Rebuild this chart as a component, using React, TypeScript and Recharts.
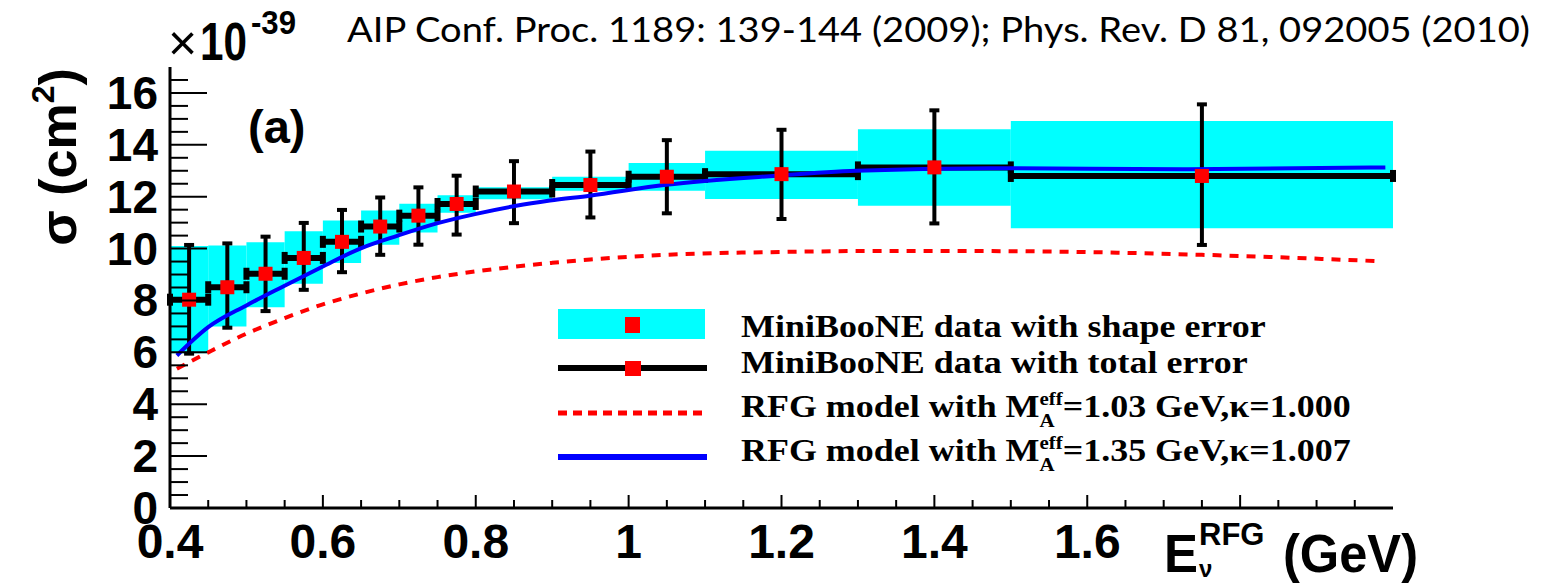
import React from 'react';
import {
  ComposedChart,
  XAxis,
  YAxis,
  Scatter,
  ErrorBar,
  Line,
  ReferenceArea,
  Legend,
  Customized,
} from 'recharts';

// ---- data (cross section in units of 1e-39 cm^2) ----
const BIN_LOW = [0.4, 0.45, 0.5, 0.55, 0.6, 0.65, 0.7, 0.75, 0.8, 0.9, 1.0, 1.1, 1.3, 1.5];
const BIN_HIGH = [0.45, 0.5, 0.55, 0.6, 0.65, 0.7, 0.75, 0.8, 0.9, 1.0, 1.1, 1.3, 1.5, 2.0];
const BIN_CENTER = [0.425, 0.475, 0.525, 0.575, 0.625, 0.675, 0.725, 0.775, 0.85, 0.95, 1.05, 1.2, 1.4, 1.75];
const SIGMA = [8.03, 8.51, 9.03, 9.64, 10.26, 10.85, 11.27, 11.72, 12.2, 12.45, 12.77, 12.87, 13.13, 12.8];
const TOTAL_LOW = [5.95, 6.95, 7.59, 8.41, 9.09, 9.76, 10.15, 10.54, 10.98, 11.2, 11.36, 11.14, 10.97, 10.14];
const TOTAL_HIGH = [10.14, 10.2, 10.46, 10.99, 11.49, 11.97, 12.36, 12.81, 13.37, 13.74, 14.18, 14.58, 15.33, 15.56];
const SHAPE_LOW = [5.97, 7.0, 7.74, 8.64, 9.44, 10.15, 10.62, 11.38, 11.9, 12.23, 12.23, 11.91, 11.65, 10.78];
const SHAPE_HIGH = [10.1, 10.12, 10.24, 10.67, 11.08, 11.47, 11.73, 12.06, 12.36, 12.77, 13.3, 13.77, 14.6, 14.92];

// RFG model, M_A^eff = 1.35 GeV, kappa = 1.007 (blue)
const BLUE_X = [0.409, 0.45, 0.5, 0.548, 0.598, 0.648, 0.698, 0.749, 0.799, 0.853, 0.897, 0.949, 1.049, 1.193, 1.298, 1.472, 1.733, 1.99];
const BLUE_Y = [5.88, 6.97, 7.81, 8.54, 9.28, 9.99, 10.5, 10.97, 11.33, 11.65, 11.85, 12.04, 12.46, 12.81, 13.0, 13.1, 13.06, 13.13];

// RFG model, M_A^eff = 1.03 GeV, kappa = 1.000 (red dashed)
const RED_X = [0.409, 0.45, 0.5, 0.55, 0.6, 0.65, 0.7, 0.75, 0.8, 0.85, 0.9, 0.95, 1.05, 1.2, 1.35, 1.5, 1.75, 1.986];
const RED_Y = [5.37, 6.0, 6.72, 7.32, 7.85, 8.27, 8.62, 8.9, 9.12, 9.3, 9.45, 9.58, 9.76, 9.87, 9.91, 9.9, 9.76, 9.51];

const X_TICKS = [0.4, 0.45, 0.5, 0.55, 0.6, 0.65, 0.7, 0.75, 0.8, 0.85, 0.9, 0.95, 1.0, 1.05, 1.1, 1.15, 1.2, 1.25, 1.3, 1.35, 1.4, 1.45, 1.5, 1.55, 1.6, 1.65, 1.7, 1.75, 1.8, 1.85, 1.9, 1.95];
const X_LABELS = ['0.4', '0.6', '0.8', '1', '1.2', '1.4', '1.6'];
const Y_TICKS = [0, 0.5, 1, 1.5, 2, 2.5, 3, 3.5, 4, 4.5, 5, 5.5, 6, 6.5, 7, 7.5, 8, 8.5, 9, 9.5, 10, 10.5, 11, 11.5, 12, 12.5, 13, 13.5, 14, 14.5, 15, 15.5, 16, 16.5];
const Y_LABELS = ['0', '2', '4', '6', '8', '10', '12', '14', '16'];

const LEGEND_DATA_LABELS = ['MiniBooNE data with shape error', 'MiniBooNE data with total error'];
const MODEL_MA = ['1.03', '1.35'];
const MODEL_KAPPA = ['1.000', '1.007'];
const CITATION = 'AIP Conf. Proc. 1189: 139-144 (2009); Phys. Rev. D 81, 092005 (2010)';

const POINTS = BIN_CENTER.map((x, i) => ({
  x,
  y: SIGMA[i],
  ex: [x - BIN_LOW[i], BIN_HIGH[i] - x],
  ey: [SIGMA[i] - TOTAL_LOW[i], TOTAL_HIGH[i] - SIGMA[i]],
}));
const BLUE_DATA = BLUE_X.map((x, i) => ({ x, y: BLUE_Y[i] }));
const RED_DATA = RED_X.map((x, i) => ({ x, y: RED_Y[i] }));

const SANS = '"Liberation Sans", Arial, Helvetica, sans-serif';
const SERIF = '"Liberation Serif", "Times New Roman", serif';

const fmt = (v: number) => String(Math.round(v * 1000) / 1000);

const YTick = (props: any) => {
  const { x, y, payload } = props;
  const v = payload.value as number;
  const label = fmt(v);
  const major = Y_LABELS.includes(label);
  return (
    <g>
      <line x1={x} x2={x + (major ? 37 : 18)} y1={y} y2={y} stroke="#000" strokeWidth={2} />
      {major && (
        <text x={x - 12} y={y + 16} textAnchor="end" fontFamily={SANS} fontWeight="bold" fontSize={46} fill="#000">
          {label}
        </text>
      )}
    </g>
  );
};

const XTick = (props: any) => {
  const { x, y, payload } = props;
  const v = payload.value as number;
  const label = fmt(v);
  const major = Math.abs((v - 0.4) / 0.2 - Math.round((v - 0.4) / 0.2)) < 1e-6;
  return (
    <g>
      <line x1={x} x2={x} y1={y} y2={y - (major ? 13 : 8)} stroke="#000" strokeWidth={2} />
      {X_LABELS.includes(label) && (
        <text x={x} y={y + 50} textAnchor="middle" fontFamily={SANS} fontWeight="bold" fontSize={48} fill="#000">
          {label}
        </text>
      )}
    </g>
  );
};

const RedSquare = (props: any) => {
  const { cx, cy } = props;
  return <rect x={cx - 7} y={cy - 7} width={14} height={14} fill="#FF0000" />;
};

const LegendBox = () => (
  <svg width={870} height={185} style={{ display: 'block', overflow: 'visible' }}>
    <rect x={18} y={14} width={147} height={30} fill="#00FFFF" />
    <rect x={85} y={22} width={15} height={16} fill="#FF0000" />
    <line x1={18} x2={167} y1={73} y2={73} stroke="#000" strokeWidth={6} />
    <rect x={85} y={66} width={16} height={15} fill="#FF0000" />
    <line x1={18} x2={165} y1={118} y2={118} stroke="#FF0000" strokeWidth={5} strokeDasharray="9 6" />
    <line x1={18} x2={167} y1={162} y2={162} stroke="#0000FF" strokeWidth={6} />
    {LEGEND_DATA_LABELS.map((t, i) => (
      <text
        key={t}
        transform={`translate(201,${[42, 78][i]}) scale(1.16,1)`}
        fontFamily={SERIF}
        fontWeight="bold"
        fontSize={31}
        fill="#000"
      >
        {t}
      </text>
    ))}
    {MODEL_MA.map((ma, i) => (
      <text
        key={ma}
        transform={`translate(201,${[122, 166][i]}) scale(1.16,1)`}
        fontFamily={SERIF}
        fontWeight="bold"
        fontSize={31}
        fill="#000"
      >
        <tspan>RFG model with M</tspan>
        <tspan dy={-12} fontSize={18}>eff</tspan>
        <tspan dx={-20} dy={22} fontSize={18}>A</tspan>
        <tspan dx={7} dy={-10}>{`=${ma} GeV,κ=${MODEL_KAPPA[i]}`}</tspan>
      </text>
    ))}
  </svg>
);

const Overlay = () => (
  <g>
    {/* exponent */}
    <text x={168} y={60} fontFamily={SANS} fontSize={50} fill="#000">×</text>
    <text x={200} y={60} fontFamily={SANS} fontWeight="bold" fontSize={54} textLength={47} lengthAdjust="spacingAndGlyphs" fill="#000">10</text>
    <text x={251} y={34} fontFamily={SANS} fontWeight="bold" fontSize={34} textLength={45} lengthAdjust="spacingAndGlyphs" fill="#000">-39</text>
    {/* citation */}
    <text x={347} y={42} fontFamily='Lato, "Open Sans", sans-serif' fontSize={34} textLength={1183} lengthAdjust="spacingAndGlyphs" fill="#000">
      {CITATION}
    </text>
    {/* panel tag */}
    <text x={248} y={143} fontFamily={SANS} fontWeight="bold" fontSize={47} fill="#000">(a)</text>
    {/* y title */}
    <text transform="translate(76,157) rotate(-90)" textAnchor="middle" fontFamily={SANS} fontWeight="bold" fontSize={52} fill="#000">
      <tspan>σ (cm</tspan>
      <tspan dy={-22} fontSize={32}>2</tspan>
      <tspan dy={22}>)</tspan>
    </text>
    {/* x title */}
    <text x={1164} y={572} fontFamily={SANS} fontWeight="bold" fontSize={54} textLength={34} lengthAdjust="spacingAndGlyphs" fill="#000">E</text>
    <text x={1199} y={545} fontFamily={SANS} fontWeight="bold" fontSize={31} fill="#000">RFG</text>
    <text x={1199} y={577} fontFamily={SANS} fontWeight="bold" fontSize={24} fill="#000">ν</text>
    <text x={1283} y={572} fontFamily={SANS} fontWeight="bold" fontSize={54} textLength={135} lengthAdjust="spacingAndGlyphs" fill="#000">(GeV)</text>
  </g>
);

export default function App() {
  return (
    <div style={{ position: 'absolute', left: 0, top: 0, width: 1541, height: 583, background: '#fff' }}>
      <ComposedChart width={1541} height={583} margin={{ top: 67, right: 148, bottom: 25, left: 100 }}>
        <XAxis
          xAxisId={0}
          dataKey="x"
          type="number"
          domain={[0.4, 2.0]}
          ticks={X_TICKS}
          interval={0}
          allowDataOverflow
          height={50}
          tickSize={0}
          tickMargin={0}
          tickLine={false}
          axisLine={{ stroke: '#000', strokeWidth: 3 }}
          tick={<XTick />}
        />
        <XAxis
          xAxisId="top"
          orientation="top"
          type="number"
          domain={[0.4, 2.0]}
          height={0}
          tick={false}
          tickLine={false}
          axisLine={{ stroke: '#333', strokeWidth: 2 }}
        />
        <YAxis
          yAxisId={0}
          type="number"
          domain={[0, 17]}
          ticks={Y_TICKS}
          interval={0}
          allowDataOverflow
          width={70}
          tickSize={0}
          tickMargin={0}
          tickLine={false}
          axisLine={{ stroke: '#000', strokeWidth: 3 }}
          tick={<YTick />}
        />
        <YAxis
          yAxisId="right"
          orientation="right"
          type="number"
          domain={[0, 17]}
          width={0}
          tick={false}
          tickLine={false}
          axisLine={{ stroke: '#333', strokeWidth: 2 }}
        />
        {BIN_CENTER.map((c, i) => (
          <ReferenceArea
            key={'shape' + i}
            x1={BIN_LOW[i]}
            x2={BIN_HIGH[i]}
            y1={SHAPE_LOW[i]}
            y2={SHAPE_HIGH[i]}
            fill="#00FFFF"
            fillOpacity={1}
            stroke="none"
            ifOverflow="visible"
          />
        ))}
        <Scatter
          name="MiniBooNE data"
          data={POINTS}
          dataKey="y"
          shape={<RedSquare />}
          isAnimationActive={false}
        >
          <ErrorBar dataKey="ex" direction="x" width={6} stroke="#000" strokeWidth={6} />
          <ErrorBar dataKey="ey" direction="y" width={5} stroke="#000" strokeWidth={4} />
        </Scatter>
        <Line
          data={BLUE_DATA}
          dataKey="y"
          type="monotone"
          stroke="#0000FF"
          strokeWidth={4}
          dot={false}
          activeDot={false}
          isAnimationActive={false}
        />
        <Line
          data={RED_DATA}
          dataKey="y"
          type="monotone"
          stroke="#FF0000"
          strokeWidth={4}
          strokeDasharray="9 8"
          dot={false}
          activeDot={false}
          isAnimationActive={false}
        />
        <Legend
          layout="horizontal"
          verticalAlign="middle"
          align="center"
          content={() => <LegendBox />}
          wrapperStyle={{ left: 540, top: 295, width: 870, height: 185 }}
        />
        <Customized component={Overlay} />
      </ComposedChart>
    </div>
  );
}
